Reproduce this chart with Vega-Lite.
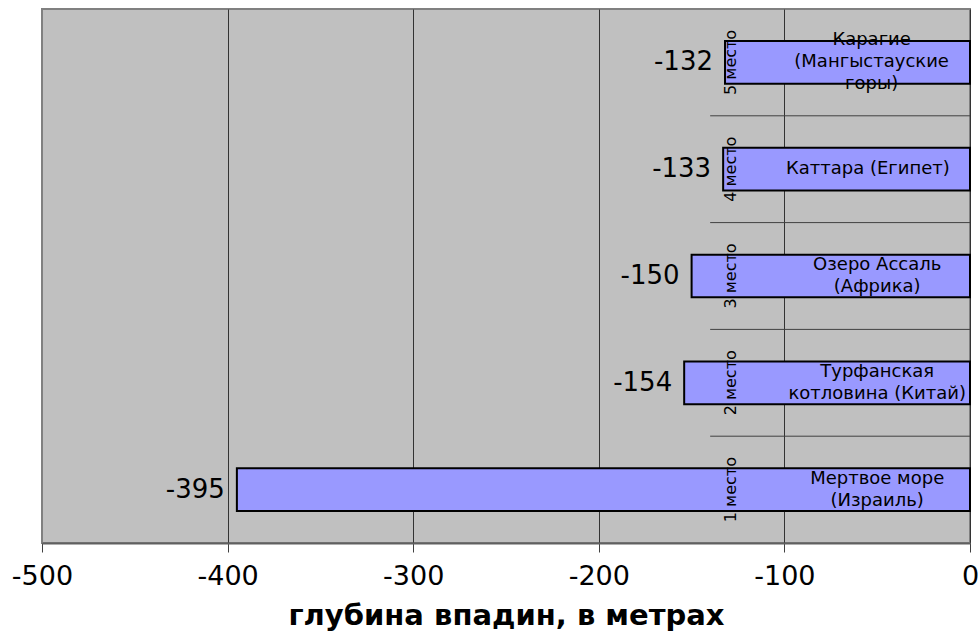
{
  "$schema": "https://vega.github.io/schema/vega-lite/v6.json",
  "autosize": "none",
  "width": 928,
  "height": 534,
  "padding": {"left": 42, "top": 9, "right": 8, "bottom": 97},
  "background": "white",
  "config": {
    "view": {"fill": "#C0C0C0", "stroke": "#808080", "strokeWidth": 2},
    "text": {"font": "DejaVu Sans", "color": "black"}
  },
  "data": {
    "values": [
      {"rank": 1, "place": "1 место", "name": "Мертвое море\n(Израиль)", "depth": -395},
      {"rank": 2, "place": "2 место", "name": "Турфанская\nкотловина (Китай)", "depth": -154},
      {"rank": 3, "place": "3 место", "name": "Озеро Ассаль\n(Африка)", "depth": -150},
      {"rank": 4, "place": "4 место", "name": "Каттара (Египет)", "depth": -133},
      {"rank": 5, "place": "5 место", "name": "Карагие\n(Мангыстауские\nгоры)", "depth": -132}
    ]
  },
  "encoding": {
    "y": {
      "field": "rank",
      "type": "ordinal",
      "sort": "descending",
      "scale": {"paddingInner": 0.6, "paddingOuter": 0.3},
      "axis": null
    }
  },
  "layer": [
    {
      "mark": {"type": "bar", "fill": "#9999FF", "stroke": "black", "strokeWidth": 2},
      "encoding": {
        "x": {
          "field": "depth",
          "type": "quantitative",
          "scale": {"domain": [-500, 0], "nice": false},
          "axis": {
            "values": [-500, -400, -300, -200, -100, 0],
            "labelExpr": "datum.value + ''",
            "labelFont": "DejaVu Sans",
            "labelFontSize": 27,
            "labelColor": "black",
            "labelPadding": 11,
            "labelFlush": false,
            "tickSize": 9,
            "tickColor": "#404040",
            "domainColor": "#606060",
            "domainWidth": 2,
            "grid": true,
            "gridColor": {"condition": {"test": "datum.value === -500", "value": "#808080"}, "value": "#333333"},
            "gridWidth": 1,
            "gridOpacity": 1,
            "title": "глубина впадин, в метрах",
            "titleFont": "DejaVu Sans",
            "titleFontSize": 29,
            "titleFontWeight": "bold",
            "titleColor": "black",
            "titlePadding": 12
          }
        }
      }
    },
    {
      "transform": [{"filter": "datum.rank < 5"}],
      "mark": {"type": "rule", "color": "#404040", "strokeWidth": 1},
      "encoding": {
        "y": {"field": "rank", "type": "ordinal", "sort": "descending", "bandPosition": -0.75},
        "x": {"datum": -140, "type": "quantitative"},
        "x2": {"datum": 0}
      }
    },
    {
      "mark": {"type": "text", "align": "right", "baseline": "middle", "dx": -12, "fontSize": 26},
      "encoding": {
        "x": {"field": "depth", "type": "quantitative"},
        "text": {"field": "depth", "type": "nominal"}
      }
    },
    {
      "transform": [{"filter": "length(split(datum.name, '\\n')) == 1"}],
      "mark": {"type": "text", "align": "center", "baseline": "middle", "fontSize": 18, "lineBreak": "\n", "lineHeight": 22},
      "encoding": {
        "x": {"datum": -55, "type": "quantitative"},
        "text": {"field": "name", "type": "nominal"}
      }
    },
    {
      "transform": [{"filter": "length(split(datum.name, '\\n')) == 2"}],
      "mark": {"type": "text", "align": "center", "baseline": "middle", "dy": -11, "fontSize": 18, "lineBreak": "\n", "lineHeight": 22},
      "encoding": {
        "x": {"datum": -50, "type": "quantitative"},
        "text": {"field": "name", "type": "nominal"}
      }
    },
    {
      "transform": [{"filter": "length(split(datum.name, '\\n')) == 3"}],
      "mark": {"type": "text", "align": "center", "baseline": "middle", "dy": -22, "fontSize": 18, "lineBreak": "\n", "lineHeight": 22},
      "encoding": {
        "x": {"datum": -53, "type": "quantitative"},
        "text": {"field": "name", "type": "nominal"}
      }
    },
    {
      "mark": {"type": "text", "align": "center", "baseline": "middle", "angle": 270, "fontSize": 16},
      "encoding": {
        "x": {"datum": -129, "type": "quantitative"},
        "text": {"field": "place", "type": "nominal"}
      }
    }
  ]
}
